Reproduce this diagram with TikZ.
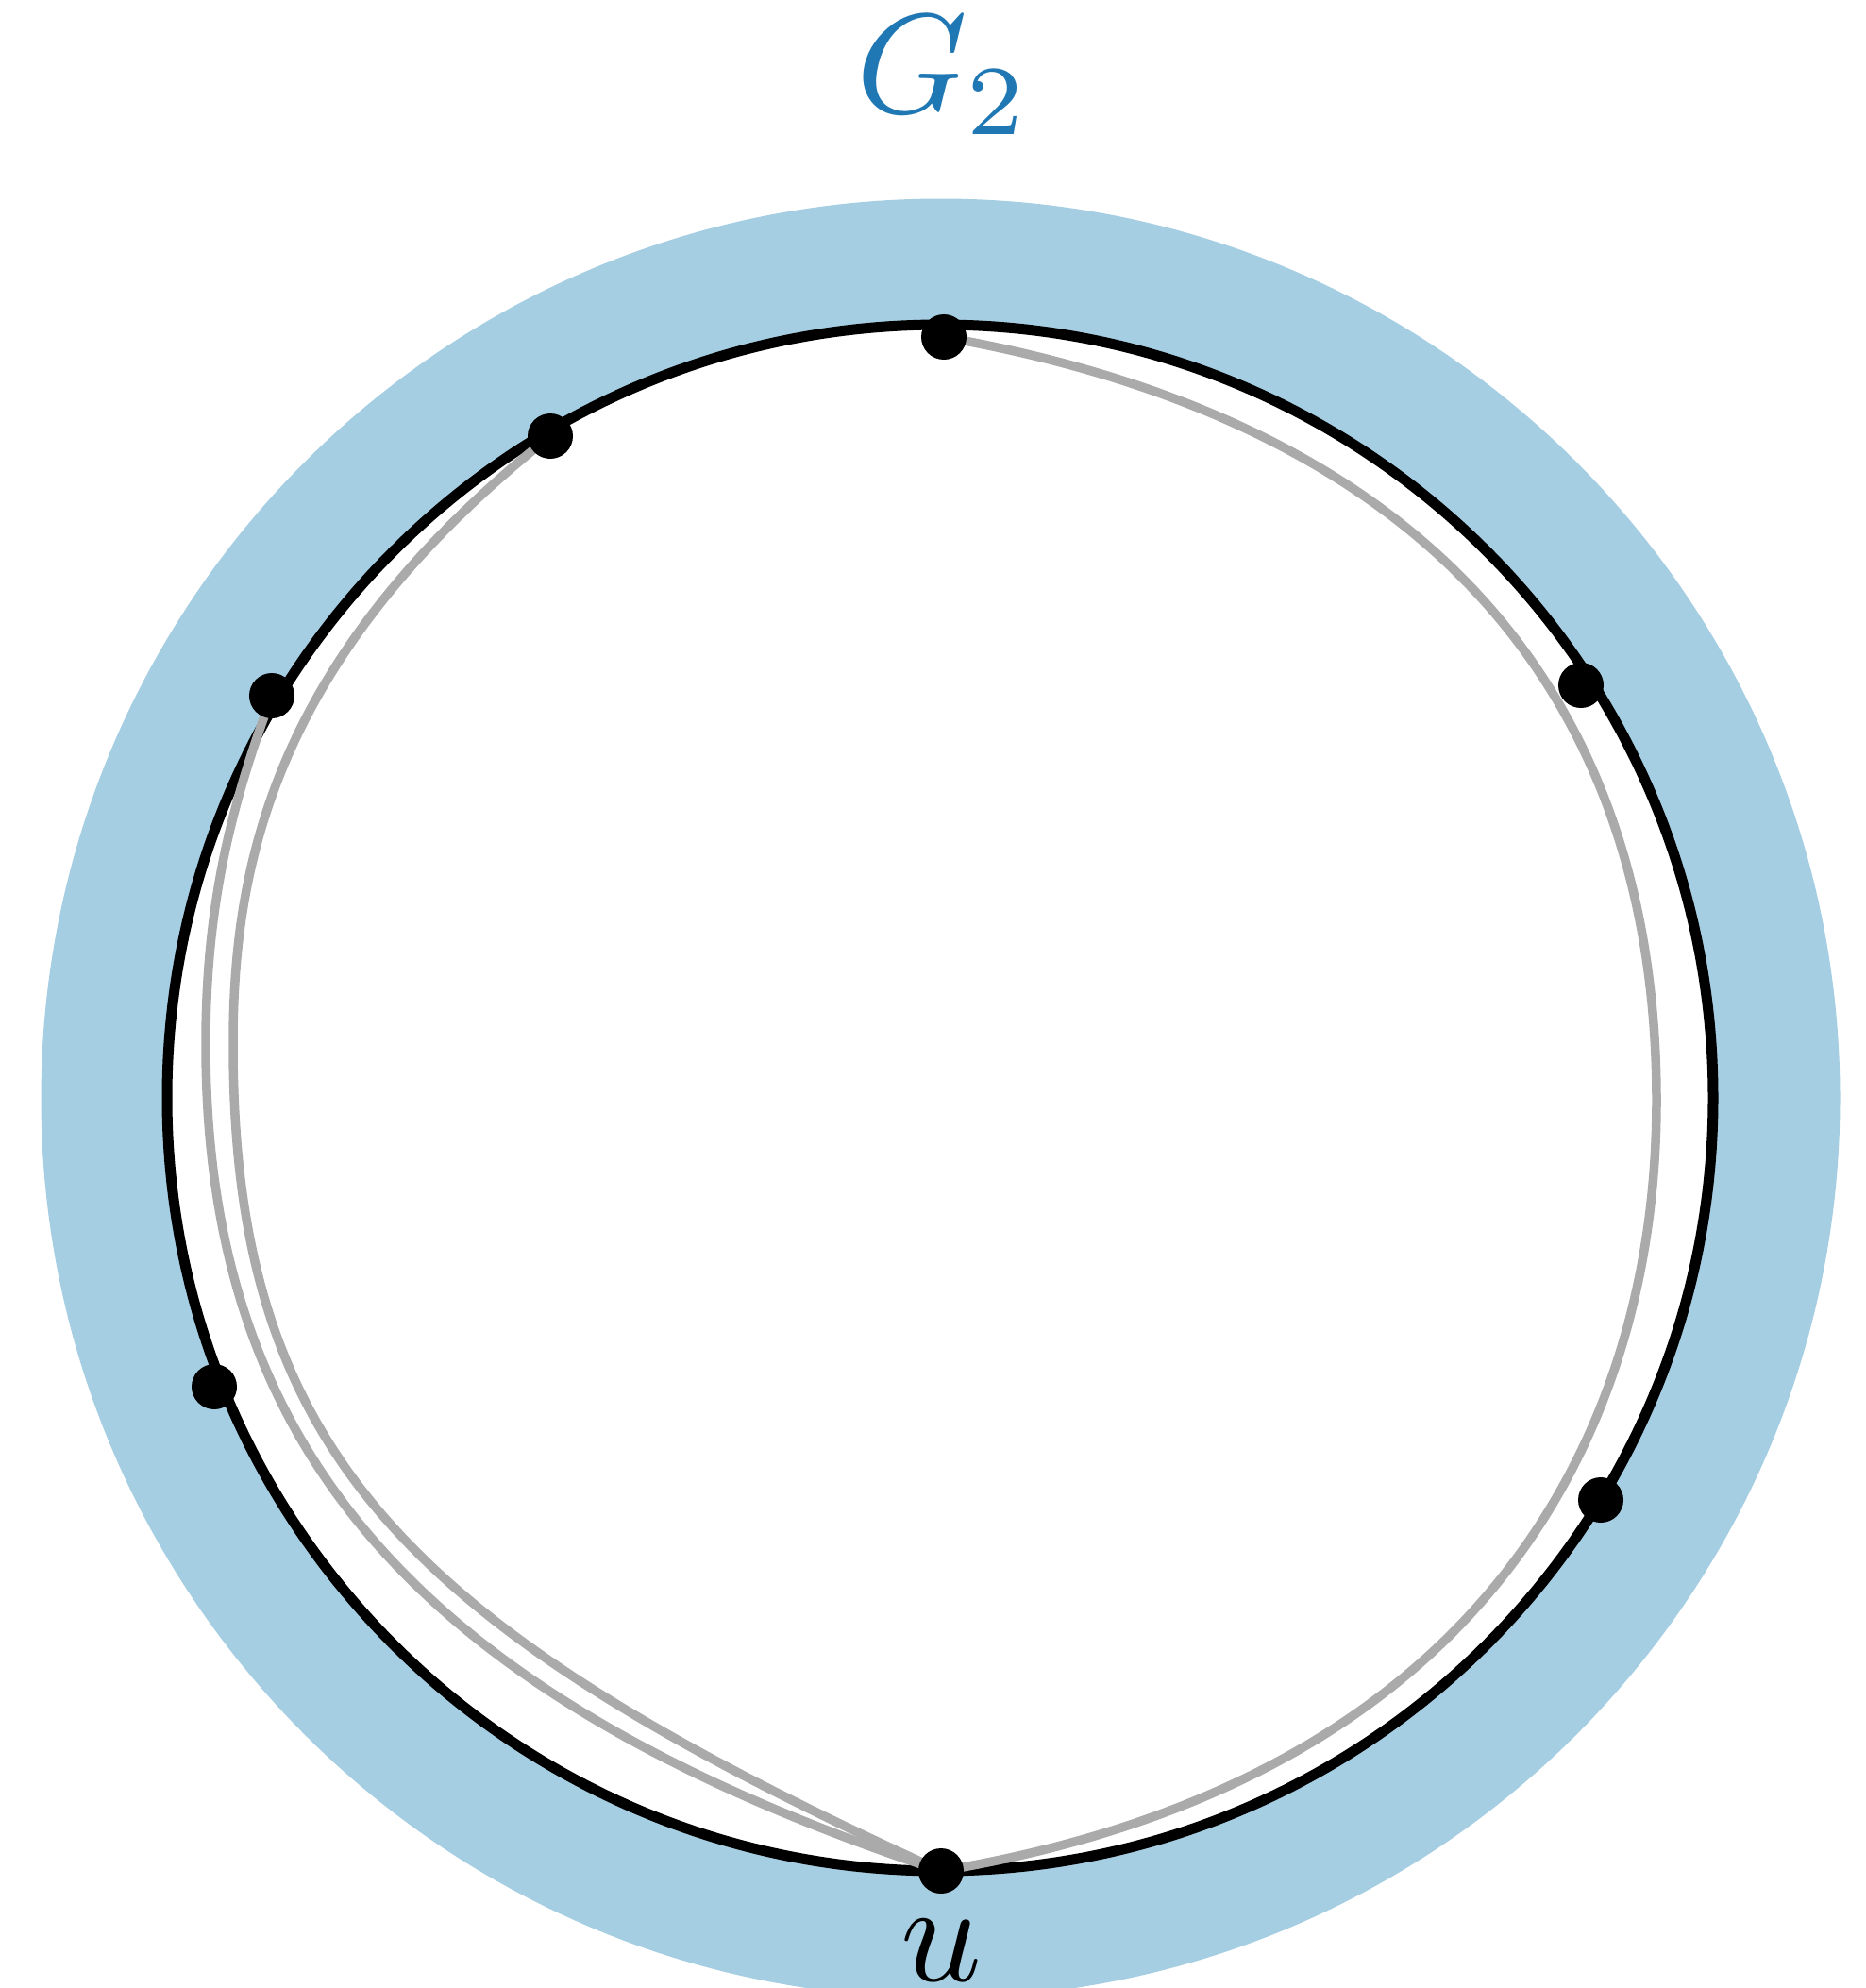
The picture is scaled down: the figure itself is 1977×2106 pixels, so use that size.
\documentclass[tikz,border=0pt]{standalone}
\definecolor{bandblue}{RGB}{166,206,227}
\definecolor{labelblue}{RGB}{31,119,180}
\definecolor{edgegray}{RGB}{170,170,170}
\begin{document}
\begin{tikzpicture}[x=1pt,y=-1pt,
  dot/.style={circle,fill=black,inner sep=0pt,minimum size=48pt},
  edge/.style={draw=edgegray,line width=9.5pt},
  ring/.style={draw=black,line width=11pt},
  biglabel/.style={scale=15,inner sep=0pt}]
\useasboundingbox (0,0) rectangle (1977,2106);
\clip (0,0) rectangle (1977,2106);
% blue band
\fill[bandblue] (996.5,1163.5) circle (953pt);
\fill[white] (996,1163) circle (819pt);
\draw[ring] (996,1163) circle (819pt);
% vertex positions
\coordinate (v1) at (1000,357);
\coordinate (v2) at (583,462);
\coordinate (v3) at (288,737);
\coordinate (v4) at (227,1469);
\coordinate (vu) at (997,1982);
\coordinate (v6) at (1696,1589);
\coordinate (v7) at (1675,726);
\coordinate (ra) at (1755,1166);
\coordinate (lb) at (247,1106);
\coordinate (lc) at (218,1106);
% gray edges
\draw[edge] (v1) .. controls (1640,470) and (1755,870) .. (ra)
  .. controls (1755,1510) and (1580,1885) .. (vu);
\draw[edge] (v2) .. controls (290,695) and (247,916) .. (lb)
  .. controls (247,1540) and (431,1725) .. (vu);
\draw[edge] (v3) .. controls (246,850) and (218,956) .. (lc)
  .. controls (218,1513) and (417,1791) .. (vu);
% dots
\node[dot] (n1) at (v1) {};
\node[dot] (n2) at (v2) {};
\node[dot] (n3) at (v3) {};
\node[dot] (n4) at (v4) {};
\node[dot] (nu) at (vu) {};
\node[dot] (n6) at (v6) {};
\node[dot] (n7) at (v7) {};
% labels
\node[biglabel,text=labelblue,anchor=base west] (g2) at (904,120) {$G_2$};
\node[biglabel,anchor=base] (ulab) at (997,2098) {$u$};
\end{tikzpicture}
\end{document}
